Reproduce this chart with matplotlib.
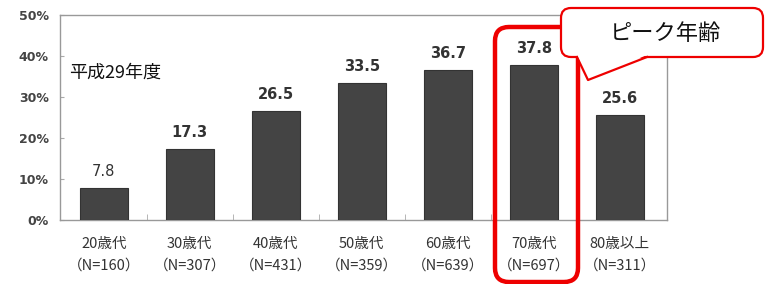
import matplotlib
matplotlib.use("Agg")
import matplotlib.pyplot as plt
from matplotlib.patches import FancyBboxPatch, Polygon
from matplotlib.lines import Line2D
from matplotlib.transforms import Affine2D
import numpy as np

plt.rcParams['font.family'] = ['Noto Sans CJK JP', 'DejaVu Sans']

ages = ['20歳代', '30歳代', '40歳代', '50歳代', '60歳代', '70歳代', '80歳以上']
counts = [160, 307, 431, 359, 639, 697, 311]
rates = [7.8, 17.3, 26.5, 33.5, 36.7, 37.8, 25.6]
yticks = [0, 10, 20, 30, 40, 50]

W, H = 765, 284
fig = plt.figure(figsize=(W / 100, H / 100), dpi=100)
# pixel coordinates measured from the top-left corner of the picture
px = Affine2D().scale(1 / W, -1 / H).translate(0, 1) + fig.transFigure

ax = fig.add_axes([60 / W, 1 - 220 / H, 607 / W, 205 / H])
x = np.arange(len(ages))
ax.bar(x, rates, width=0.56, color='#444444', edgecolor='#333333', linewidth=0.8, zorder=3)
ax.set_xlim(-0.51, 6.55)
ax.set_ylim(0, 50)

for i, v in enumerate(rates):
    ax.text(i, v + 2.2, f'{v:.1f}', ha='center', va='bottom', fontsize=10.5,
            fontweight='bold' if i > 0 else 'normal', color='#333333',
            family=['DejaVu Sans'])

ax.set_yticks(yticks)
ax.set_yticklabels([f'{t}%' for t in yticks], fontsize=9, color='#444444', fontweight='bold',
                   family=['DejaVu Sans'])
ax.set_xticks(x)
ax.set_xticklabels([f'{a}\n（N={n}）' for a, n in zip(ages, counts)], fontsize=10.5,
                   color='#333333', linespacing=1.7)
ax.tick_params(axis='x', length=0, pad=12)
ax.tick_params(axis='y', length=3, direction='in', color='#aaaaaa', pad=8)
ax.set_xticks(x[:-1] + 0.5, minor=True)
ax.tick_params(axis='x', which='minor', length=4, direction='in', color='#aaaaaa')
for s in ax.spines.values():
    s.set_color('#999999')
    s.set_linewidth(1.0)

ax.text(0.015, 0.72, '平成29年度', transform=ax.transAxes, fontsize=13, color='#111111',
        ha='left', va='center')

# red frame around the peak bar
fig.patches.append(FancyBboxPatch((495, 27), 83, 255,
                                  boxstyle='round,pad=0,rounding_size=14',
                                  transform=px, fill=False,
                                  edgecolor='#ee0000', linewidth=3.2, zorder=5))

# callout
fig.patches.append(FancyBboxPatch((561, 8), 202, 49,
                                  boxstyle='round,pad=0,rounding_size=10',
                                  transform=px, facecolor='white',
                                  edgecolor='#ee0000', linewidth=1.6, zorder=5))
fig.patches.append(Polygon([(577, 55), (588, 80), (647, 55)], closed=True, transform=px,
                           facecolor='white', edgecolor='none', zorder=6))
fig.lines.append(Line2D([577, 588, 647], [57, 80, 57], transform=px,
                        color='#ee0000', linewidth=1.6, zorder=7))
fig.text(665, 33, 'ピーク年齢', transform=px, fontsize=16, ha='center', va='center',
         color='#111111', zorder=8)

fig.savefig('out.png', dpi=100)
